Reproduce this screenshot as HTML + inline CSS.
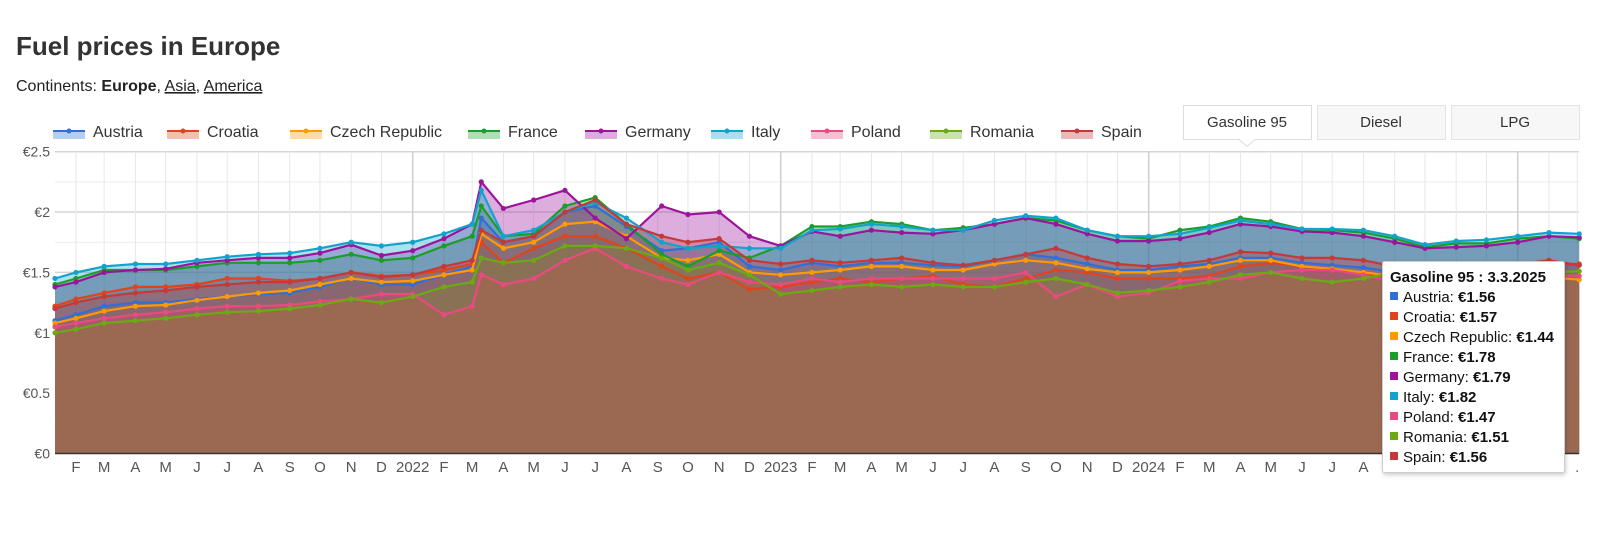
<!DOCTYPE html>
<html><head><meta charset="utf-8">
<style>
body{margin:0;background:#fff;width:1600px;height:536px;overflow:hidden;font-family:"Liberation Sans",sans-serif;}
svg text{font-family:"Liberation Sans",sans-serif;}
</style></head>
<body>
<svg id="chart" width="1600" height="536" viewBox="0 0 1600 536" xmlns="http://www.w3.org/2000/svg">
<text x="16" y="55" font-size="26" font-weight="bold" fill="#333">Fuel prices in Europe</text>
<text x="16" y="91" font-size="16" fill="#222">Continents: <tspan font-weight="bold">Europe</tspan>, <tspan text-decoration="underline">Asia</tspan>, <tspan text-decoration="underline">America</tspan></text>
<g id="grid"></g>
<g id="areas"></g>
<g id="lines"></g>
<g id="axes"></g>
<g id="legend"></g>
<g>
 <rect x="1183.5" y="105.5" width="128" height="34" fill="#fff" stroke="#ddd"/>
 <path d="M1239 139.5 L1247 146.5 L1255 139.5" fill="#fff" stroke="#ddd"/>
 <rect x="1240" y="137" width="14" height="3" fill="#fff"/>
 <text x="1247" y="127" font-size="15" fill="#333" text-anchor="middle">Gasoline 95</text>
 <rect x="1317.5" y="105.5" width="128" height="34" fill="#f7f7f7" stroke="#e3e3e3"/>
 <text x="1381" y="127" font-size="15" fill="#333" text-anchor="middle">Diesel</text>
 <rect x="1451.5" y="105.5" width="128" height="34" fill="#f7f7f7" stroke="#e3e3e3"/>
 <text x="1515" y="127" font-size="15" fill="#333" text-anchor="middle">LPG</text>
</g>
<g id="tooltip"></g>
</svg>
<script>
const dates = ["2021-01-11","2021-02-01","2021-03-01","2021-04-01","2021-05-01","2021-06-01","2021-07-01","2021-08-01","2021-09-01","2021-10-01","2021-11-01","2021-12-01",
"2022-01-01","2022-02-01","2022-03-01","2022-03-10","2022-04-01","2022-05-01","2022-06-01","2022-07-01","2022-08-01","2022-09-05","2022-10-01","2022-11-01","2022-12-01",
"2023-01-01","2023-02-01","2023-03-01","2023-04-01","2023-05-01","2023-06-01","2023-07-01","2023-08-01","2023-09-01","2023-10-01","2023-11-01","2023-12-01",
"2024-01-01","2024-02-01","2024-03-01","2024-04-01","2024-05-01","2024-06-01","2024-07-01","2024-08-01","2024-09-01","2024-10-01","2024-11-01","2024-12-01",
"2025-01-01","2025-02-01","2025-03-03"];
const seriesNames = ["Austria","Croatia","Czech Republic","France","Germany","Italy","Poland","Romania","Spain"];
const seriesColors = ["#2f6fd6","#e0441c","#ff9a00","#1a9e2a","#9c139c","#11a3cc","#e94a7f","#6aab13","#c33a38"];
const austria = [1.10,1.15,1.22,1.25,1.25,1.28,1.30,1.32,1.33,1.38,1.45,1.40,1.40,1.48,1.55,1.95,1.75,1.80,2.00,2.05,1.88,1.68,1.70,1.75,1.55,1.52,1.58,1.55,1.58,1.58,1.56,1.55,1.60,1.65,1.62,1.57,1.52,1.52,1.55,1.57,1.62,1.62,1.58,1.56,1.54,1.50,1.50,1.52,1.52,1.55,1.57,1.56];
const croatia = [1.22,1.28,1.33,1.38,1.38,1.40,1.45,1.45,1.43,1.45,1.50,1.47,1.48,1.52,1.57,1.75,1.58,1.70,1.80,1.80,1.70,1.55,1.45,1.50,1.36,1.38,1.42,1.45,1.42,1.45,1.47,1.40,1.38,1.45,1.52,1.50,1.45,1.45,1.45,1.47,1.55,1.58,1.55,1.52,1.50,1.45,1.50,1.55,1.52,1.55,1.57,1.57];
const czech = [1.08,1.12,1.18,1.22,1.23,1.27,1.30,1.33,1.35,1.40,1.45,1.42,1.43,1.48,1.52,1.82,1.70,1.75,1.90,1.92,1.80,1.62,1.60,1.65,1.50,1.48,1.50,1.52,1.55,1.55,1.52,1.52,1.57,1.60,1.58,1.53,1.50,1.50,1.52,1.55,1.60,1.60,1.55,1.53,1.50,1.47,1.46,1.48,1.46,1.47,1.46,1.44];
const france = [1.40,1.45,1.52,1.52,1.52,1.55,1.58,1.58,1.58,1.60,1.65,1.60,1.62,1.72,1.80,2.05,1.80,1.82,2.05,2.12,1.90,1.65,1.55,1.68,1.62,1.72,1.88,1.88,1.92,1.90,1.85,1.87,1.90,1.95,1.93,1.85,1.80,1.78,1.85,1.88,1.95,1.92,1.86,1.85,1.83,1.78,1.71,1.74,1.74,1.78,1.80,1.78];
const germany = [1.38,1.42,1.50,1.52,1.53,1.58,1.60,1.62,1.62,1.66,1.73,1.64,1.68,1.78,1.90,2.25,2.03,2.10,2.18,1.95,1.78,2.05,1.98,2.00,1.80,1.72,1.84,1.80,1.85,1.83,1.82,1.85,1.90,1.95,1.90,1.82,1.76,1.76,1.78,1.83,1.90,1.88,1.84,1.83,1.80,1.75,1.70,1.71,1.72,1.75,1.80,1.79];
const italy = [1.45,1.50,1.55,1.57,1.57,1.60,1.63,1.65,1.66,1.70,1.75,1.72,1.75,1.82,1.90,2.18,1.80,1.85,2.00,2.08,1.95,1.75,1.70,1.72,1.70,1.70,1.85,1.86,1.90,1.88,1.85,1.85,1.93,1.97,1.95,1.85,1.80,1.80,1.82,1.87,1.93,1.90,1.86,1.86,1.85,1.80,1.73,1.76,1.77,1.80,1.83,1.82];
const poland = [1.05,1.08,1.12,1.15,1.17,1.20,1.22,1.22,1.23,1.26,1.28,1.32,1.32,1.15,1.22,1.48,1.40,1.45,1.60,1.70,1.55,1.45,1.40,1.50,1.42,1.40,1.45,1.42,1.45,1.45,1.45,1.45,1.45,1.50,1.30,1.40,1.30,1.33,1.43,1.45,1.45,1.50,1.52,1.52,1.48,1.42,1.48,1.50,1.52,1.50,1.48,1.47];
const romania = [1.00,1.03,1.08,1.10,1.12,1.15,1.17,1.18,1.20,1.23,1.28,1.25,1.30,1.38,1.42,1.62,1.58,1.60,1.72,1.72,1.70,1.62,1.52,1.58,1.48,1.32,1.35,1.38,1.40,1.38,1.40,1.38,1.38,1.42,1.45,1.40,1.33,1.35,1.38,1.42,1.48,1.50,1.45,1.42,1.45,1.50,1.50,1.52,1.50,1.50,1.50,1.51];
const spain = [1.20,1.25,1.30,1.33,1.35,1.38,1.40,1.42,1.42,1.45,1.50,1.46,1.48,1.55,1.60,1.85,1.75,1.80,2.00,2.10,1.90,1.80,1.75,1.78,1.60,1.57,1.60,1.58,1.60,1.62,1.58,1.56,1.60,1.65,1.70,1.62,1.57,1.55,1.57,1.60,1.67,1.66,1.62,1.62,1.60,1.55,1.50,1.52,1.55,1.57,1.60,1.56];
const seriesValues = [austria,croatia,czech,france,germany,italy,poland,romania,spain];
const yTicks = [0,0.5,1,1.5,2,2.5];
const yTickLabels = ["€0","€0.5","€1","€1.5","€2","€2.5"];
const monthLetters = ["J","F","M","A","M","J","J","A","S","O","N","D"];
const tooltipTitle = "Gasoline 95 : 3.3.2025";

const NS="http://www.w3.org/2000/svg";
const PL=55, PR=1579, PT=151.7, PB=453.5, YMAX=2.5;
const ref=Date.UTC(2022,0,1), refX=412.7, pxPerDay=368/365;
function xOf(d){const p=d.split("-").map(Number);return refX+(Date.UTC(p[0],p[1]-1,p[2])-ref)/864e5*pxPerDay;}
function yOf(v){return PB-(v/YMAX)*(PB-PT);}
function mk(tag,attrs,parent){const e=document.createElementNS(NS,tag);for(const k in attrs)e.setAttribute(k,attrs[k]);parent.appendChild(e);return e;}
const grid=document.getElementById('grid'),areas=document.getElementById('areas'),lines=document.getElementById('lines'),axes=document.getElementById('axes'),legend=document.getElementById('legend'),tip=document.getElementById('tooltip');

for(let v=0.25;v<=YMAX+0.001;v+=0.25){
 const major=Math.abs(v*2-Math.round(v*2))<0.01;
 const l=mk('line',{x1:PL,x2:PR,y1:yOf(v),y2:yOf(v),stroke:major?'#d6d6d6':'#ececec','stroke-width':major?1.5:1},grid);
 
 
}
for(let y=2021;y<=2025;y++){for(let m=0;m<12;m++){
 if(y===2025&&m>2)break;
 const ds=y+"-"+String(m+1).padStart(2,'0')+"-01";const x=xOf(ds);
 if(x<PL-1||x>PR+1)continue;
 const g=mk('line',{x1:x,x2:x,y1:PT,y2:PB,stroke:m===0?'#cfcfcf':'#e8e8e8','stroke-width':m===0?1.5:1},grid);
 
 
 let lab=m===0?String(y):monthLetters[m];
 if(y===2025&&m===2)lab=".";
 const t=mk('text',{x:x,y:472,'font-size':15,fill:'#555','text-anchor':'middle'},axes);
 t.textContent=lab;
 
 
}}
yTicks.forEach((v,i)=>{const t=mk('text',{x:50,y:yOf(v)+5,'font-size':14,fill:'#555','text-anchor':'end'},axes);t.textContent=yTickLabels[i];
 
 });
seriesValues.forEach((vals,si)=>{
 const pts=vals.map((v,i)=>[Math.max(PL,xOf(dates[i])),yOf(v)]);
 const dl=pts.map((p,i)=>(i?'L':'M')+p[0].toFixed(1)+' '+p[1].toFixed(1)).join(' ');
 const a=mk('path',{d:dl+` L${pts[pts.length-1][0]} ${PB} L${pts[0][0]} ${PB} Z`,fill:seriesColors[si],'fill-opacity':0.34},areas);
 
 
 const ln=mk('path',{d:dl,fill:'none',stroke:seriesColors[si],'stroke-width':2.2,'stroke-linejoin':'round'},lines);
 
 
 pts.forEach(p=>{const c=mk('circle',{cx:p[0],cy:p[1],r:2.6,fill:seriesColors[si]},lines);
  
  });
});
const xl=mk('line',{x1:PL,x2:PR,y1:PB,y2:PB,stroke:'#333','stroke-width':1.5},axes);


const legX=[53,167,290,468,585,711,811,930,1061];
seriesNames.forEach((n,i)=>{
 const g=mk('g',{},legend);
 
 
 const x=legX[i],cy=131;
 mk('rect',{x:x,y:cy,width:32,height:8,fill:seriesColors[i],'fill-opacity':0.35},g);
 mk('line',{x1:x,x2:x+32,y1:cy,y2:cy,stroke:seriesColors[i],'stroke-width':2},g);
 mk('circle',{cx:x+16,cy:cy,r:2.5,fill:seriesColors[i]},g);
 const t=mk('text',{x:x+40,y:cy+6,'font-size':16,fill:'#333'},g);t.textContent=n;
});
const tb=mk('rect',{x:1382.5,y:261.5,width:182,height:211,fill:'#fff',stroke:'#ccc',rx:2},tip);
tb.setAttribute('style','filter:drop-shadow(1px 2px 2px rgba(0,0,0,0.2))');


const tt=mk('text',{x:1390,y:282,'font-size':15,'font-weight':'bold',fill:'#111'},tip);tt.textContent=tooltipTitle;


seriesNames.forEach((n,i)=>{
 const y=302+i*20;
 mk('rect',{x:1390,y:y-10,width:8,height:8,fill:seriesColors[i]},tip);
 const t=mk('text',{x:1403,y:y,'font-size':15,fill:'#111'},tip);
 
 
 const last=seriesValues[i][seriesValues[i].length-1];
 t.appendChild(document.createTextNode(n+': '));
 const b=mk('tspan',{'font-weight':'bold'},t);b.textContent='€'+last.toFixed(2);
});
</script>
</body></html>
